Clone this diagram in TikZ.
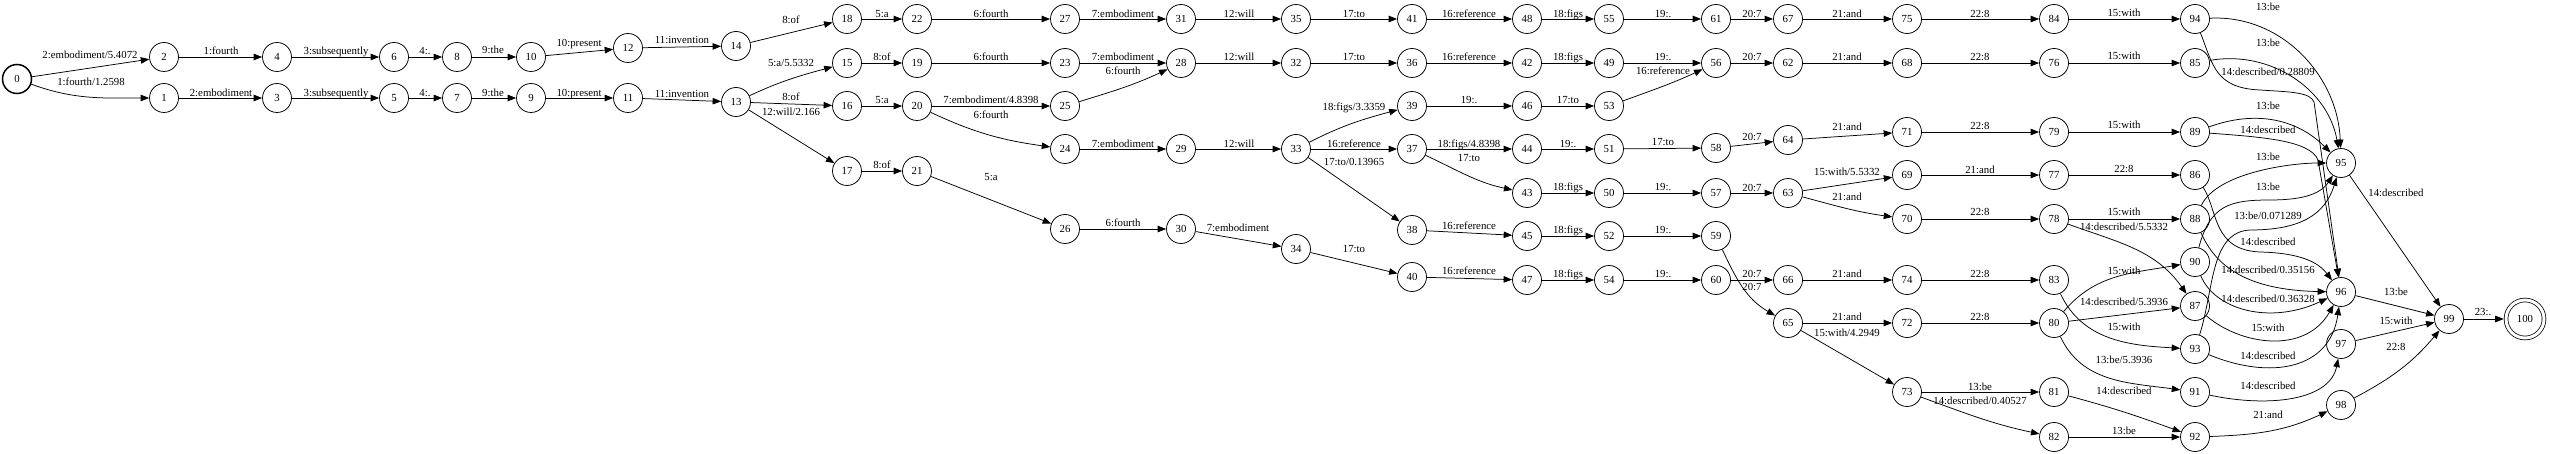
\documentclass[tikz,border=0pt]{standalone}
\usepackage{fontspec}
\setmainfont{Liberation Serif}
\usetikzlibrary{arrows.meta}
\begin{document}
\begin{tikzpicture}[x=1pt,y=1pt,
  st/.style={circle,draw,line width=0.75pt,minimum size=29pt,inner sep=0pt,font=\fontsize{10.8}{12}\selectfont},
  e/.style={-{Triangle[length=8.5pt,width=6.5pt]},line width=0.75pt},
  lbl/.style={font=\fontsize{10.8}{12}\selectfont,inner sep=0pt,text height=7pt,text depth=2pt}
]
\useasboundingbox (0,0) rectangle (2550,-454);
% nodes
\node[st,line width=1.5pt] (n0) at (17,-79) {0};
\node[st] (n1) at (164,-98) {1};
\node[st] (n2) at (164,-57) {2};
\node[st] (n3) at (277,-98) {3};
\node[st] (n4) at (277,-57) {4};
\node[st] (n5) at (394,-98) {5};
\node[st] (n6) at (394,-57) {6};
\node[st] (n7) at (457,-98) {7};
\node[st] (n8) at (457,-57) {8};
\node[st] (n9) at (531,-98) {9};
\node[st] (n10) at (531,-57) {10};
\node[st] (n11) at (628,-98) {11};
\node[st] (n12) at (628,-48) {12};
\node[st] (n13) at (736,-102) {13};
\node[st] (n14) at (736,-46) {14};
\node[st] (n15) at (847,-63) {15};
\node[st] (n16) at (847,-106) {16};
\node[st] (n17) at (847,-171) {17};
\node[st] (n18) at (847,-19) {18};
\node[st] (n19) at (917,-63) {19};
\node[st] (n20) at (917,-106) {20};
\node[st] (n21) at (917,-171) {21};
\node[st] (n22) at (917,-19) {22};
\node[st] (n23) at (1065,-63) {23};
\node[st] (n24) at (1065,-149) {24};
\node[st] (n25) at (1065,-106) {25};
\node[st] (n26) at (1065,-229) {26};
\node[st] (n27) at (1065,-19) {27};
\node[st] (n28) at (1181,-63) {28};
\node[st] (n29) at (1181,-149) {29};
\node[st] (n30) at (1181,-229) {30};
\node[st] (n31) at (1181,-19) {31};
\node[st] (n32) at (1296,-63) {32};
\node[st] (n33) at (1296,-149) {33};
\node[st] (n34) at (1296,-249) {34};
\node[st] (n35) at (1296,-19) {35};
\node[st] (n36) at (1412,-63) {36};
\node[st] (n37) at (1412,-149) {37};
\node[st] (n38) at (1412,-230) {38};
\node[st] (n39) at (1412,-106) {39};
\node[st] (n40) at (1412,-277) {40};
\node[st] (n41) at (1412,-19) {41};
\node[st] (n42) at (1527,-63) {42};
\node[st] (n43) at (1527,-193) {43};
\node[st] (n44) at (1527,-149) {44};
\node[st] (n45) at (1527,-236) {45};
\node[st] (n46) at (1527,-106) {46};
\node[st] (n47) at (1527,-280) {47};
\node[st] (n48) at (1527,-19) {48};
\node[st] (n49) at (1609,-63) {49};
\node[st] (n50) at (1609,-193) {50};
\node[st] (n51) at (1609,-149) {51};
\node[st] (n52) at (1609,-236) {52};
\node[st] (n53) at (1609,-106) {53};
\node[st] (n54) at (1609,-280) {54};
\node[st] (n55) at (1609,-19) {55};
\node[st] (n56) at (1716,-63) {56};
\node[st] (n57) at (1716,-193) {57};
\node[st] (n58) at (1716,-148) {58};
\node[st] (n59) at (1716,-236) {59};
\node[st] (n60) at (1716,-280) {60};
\node[st] (n61) at (1716,-19) {61};
\node[st] (n62) at (1788,-63) {62};
\node[st] (n63) at (1788,-193) {63};
\node[st] (n64) at (1788,-140) {64};
\node[st] (n65) at (1788,-323) {65};
\node[st] (n66) at (1788,-280) {66};
\node[st] (n67) at (1788,-19) {67};
\node[st] (n68) at (1907,-63) {68};
\node[st] (n69) at (1907,-175) {69};
\node[st] (n70) at (1907,-219) {70};
\node[st] (n71) at (1907,-132) {71};
\node[st] (n72) at (1907,-323) {72};
\node[st] (n73) at (1907,-392) {73};
\node[st] (n74) at (1907,-280) {74};
\node[st] (n75) at (1907,-19) {75};
\node[st] (n76) at (2054,-63) {76};
\node[st] (n77) at (2054,-175) {77};
\node[st] (n78) at (2054,-219) {78};
\node[st] (n79) at (2054,-132) {79};
\node[st] (n80) at (2054,-323) {80};
\node[st] (n81) at (2054,-392) {81};
\node[st] (n82) at (2054,-437) {82};
\node[st] (n83) at (2054,-280) {83};
\node[st] (n84) at (2054,-19) {84};
\node[st] (n85) at (2195,-63) {85};
\node[st] (n86) at (2195,-175) {86};
\node[st] (n87) at (2195,-306) {87};
\node[st] (n88) at (2195,-219) {88};
\node[st] (n89) at (2195,-132) {89};
\node[st] (n90) at (2195,-262) {90};
\node[st] (n91) at (2195,-392) {91};
\node[st] (n92) at (2195,-437) {92};
\node[st] (n93) at (2195,-349) {93};
\node[st] (n94) at (2195,-19) {94};
\node[st] (n95) at (2341,-163) {95};
\node[st] (n96) at (2341,-292) {96};
\node[st] (n97) at (2341,-344) {97};
\node[st] (n98) at (2341,-405) {98};
\node[st] (n99) at (2449,-319) {99};
\node[st,double,double distance=3pt,minimum size=38pt,outer sep=2.3pt] (n100) at (2525,-319) {100};
% edges
\draw[e] (n0) -- (n2) node[lbl] at (90,-56) {2:embodiment/5.4072};
\draw[e] (n0) to[out=-20,in=180] (n1) node[lbl] at (91,-83) {1:fourth/1.2598};
\draw[e] (n2) -- (n4) node[lbl] at (221,-52) {1:fourth};
\draw[e] (n1) -- (n3) node[lbl] at (221,-94) {2:embodiment};
\draw[e] (n4) -- (n6) node[lbl] at (336,-52) {3:subsequently};
\draw[e] (n3) -- (n5) node[lbl] at (336,-94) {3:subsequently};
\draw[e] (n6) -- (n8) node[lbl] at (425,-52) {4:.};
\draw[e] (n5) -- (n7) node[lbl] at (425,-94) {4:.};
\draw[e] (n8) -- (n10) node[lbl] at (493,-51) {9:the};
\draw[e] (n7) -- (n9) node[lbl] at (493,-94) {9:the};
\draw[e] (n10) -- (n12) node[lbl] at (579,-44) {10:present};
\draw[e] (n9) -- (n11) node[lbl] at (579,-94) {10:present};
\draw[e] (n12) -- (n14) node[lbl] at (682,-41) {11:invention};
\draw[e] (n11) -- (n13) node[lbl] at (682,-95) {11:invention};
\draw[e] (n14) -- (n18) node[lbl] at (791,-21) {8:of};
\draw[e] (n13) to[out=25,in=195] (n15) node[lbl] at (791,-64) {5:a/5.5332};
\draw[e] (n13) -- (n16) node[lbl] at (791,-98) {8:of};
\draw[e] (n13) -- (n17) node[lbl] at (791,-113) {12:will/2.166};
\draw[e] (n18) -- (n22) node[lbl] at (882,-15) {5:a};
\draw[e] (n15) -- (n19) node[lbl] at (882,-58) {8:of};
\draw[e] (n16) -- (n20) node[lbl] at (882,-101) {5:a};
\draw[e] (n17) -- (n21) node[lbl] at (882,-166) {8:of};
\draw[e] (n22) -- (n27) node[lbl] at (991,-15) {6:fourth};
\draw[e] (n19) -- (n23) node[lbl] at (991,-58) {6:fourth};
\draw[e] (n20) -- (n25) node[lbl] at (991,-101) {7:embodiment/4.8398};
\draw[e] (n20) to[out=-25,in=172] (n24) node[lbl] at (991,-116) {6:fourth};
\draw[e] (n21) -- (n26) node[lbl] at (991,-178) {5:a};
\draw[e] (n27) -- (n31) node[lbl] at (1123,-15) {7:embodiment};
\draw[e] (n23) -- (n28) node[lbl] at (1123,-58) {7:embodiment};
\draw[e] (n25) to[out=17,in=205] (n28) node[lbl] at (1123,-72) {6:fourth};
\draw[e] (n24) -- (n29) node[lbl] at (1123,-145) {7:embodiment};
\draw[e] (n26) -- (n30) node[lbl] at (1123,-224) {6:fourth};
\draw[e] (n31) -- (n35) node[lbl] at (1239,-15) {12:will};
\draw[e] (n28) -- (n32) node[lbl] at (1239,-58) {12:will};
\draw[e] (n29) -- (n33) node[lbl] at (1239,-145) {12:will};
\draw[e] (n30) -- (n34) node[lbl] at (1238,-229) {7:embodiment};
\draw[e] (n35) -- (n41) node[lbl] at (1354,-15) {17:to};
\draw[e] (n32) -- (n36) node[lbl] at (1354,-58) {17:to};
\draw[e] (n33) to[out=27,in=195] (n39) node[lbl] at (1354,-108) {18:figs/3.3359};
\draw[e] (n33) -- (n37) node[lbl] at (1354,-145) {16:reference};
\draw[e] (n33) -- (n38) node[lbl] at (1354,-163) {17:to/0.13965};
\draw[e] (n34) -- (n40) node[lbl] at (1354,-250) {17:to};
\draw[e] (n41) -- (n48) node[lbl] at (1469,-15) {16:reference};
\draw[e] (n36) -- (n42) node[lbl] at (1469,-58) {16:reference};
\draw[e] (n39) -- (n46) node[lbl] at (1469,-101) {19:.};
\draw[e] (n37) -- (n44) node[lbl] at (1469,-145) {18:figs/4.8398};
\draw[e] (n37) to[out=-25,in=168] (n43) node[lbl] at (1469,-159) {17:to};
\draw[e] (n38) -- (n45) node[lbl] at (1469,-227) {16:reference};
\draw[e] (n40) -- (n47) node[lbl] at (1469,-272) {16:reference};
\draw[e] (n48) -- (n55) node[lbl] at (1568,-15) {18:figs};
\draw[e] (n42) -- (n49) node[lbl] at (1568,-58) {18:figs};
\draw[e] (n46) -- (n53) node[lbl] at (1568,-101) {17:to};
\draw[e] (n44) -- (n51) node[lbl] at (1568,-145) {19:.};
\draw[e] (n43) -- (n50) node[lbl] at (1568,-188) {18:figs};
\draw[e] (n45) -- (n52) node[lbl] at (1568,-231) {18:figs};
\draw[e] (n47) -- (n54) node[lbl] at (1568,-275) {18:figs};
\draw[e] (n55) -- (n61) node[lbl] at (1663,-15) {19:.};
\draw[e] (n49) -- (n56) node[lbl] at (1663,-58) {19:.};
\draw[e] (n53) to[out=20,in=205] (n56) node[lbl] at (1663,-72) {16:reference};
\draw[e] (n51) -- (n58) node[lbl] at (1663,-143) {17:to};
\draw[e] (n50) -- (n57) node[lbl] at (1663,-188) {19:.};
\draw[e] (n52) -- (n59) node[lbl] at (1663,-231) {19:.};
\draw[e] (n54) -- (n60) node[lbl] at (1663,-275) {19:.};
\draw[e] (n61) -- (n67) node[lbl] at (1752,-15) {20:7};
\draw[e] (n56) -- (n62) node[lbl] at (1752,-58) {20:7};
\draw[e] (n58) -- (n64) node[lbl] at (1752,-138) {20:7};
\draw[e] (n57) -- (n63) node[lbl] at (1752,-189) {20:7};
\draw[e] (n60) -- (n66) node[lbl] at (1752,-275) {20:7};
\draw[e] (n59) to[out=-65,in=150] (n65) node[lbl] at (1752,-288) {20:7};
\draw[e] (n67) -- (n75) node[lbl] at (1847,-15) {21:and};
\draw[e] (n62) -- (n68) node[lbl] at (1847,-58) {21:and};
\draw[e] (n64) -- (n71) node[lbl] at (1847,-128) {21:and};
\draw[e] (n63) -- (n69) node[lbl] at (1847,-173) {15:with/5.5332};
\draw[e] (n63) to[out=-15,in=172] (n70) node[lbl] at (1847,-198) {21:and};
\draw[e] (n66) -- (n74) node[lbl] at (1847,-275) {21:and};
\draw[e] (n65) -- (n72) node[lbl] at (1847,-318) {21:and};
\draw[e] (n65) -- (n73) node[lbl] at (1847,-334) {15:with/4.2949};
\draw[e] (n75) -- (n84) node[lbl] at (1980,-15) {22:8};
\draw[e] (n68) -- (n76) node[lbl] at (1980,-58) {22:8};
\draw[e] (n71) -- (n79) node[lbl] at (1980,-127) {22:8};
\draw[e] (n69) -- (n77) node[lbl] at (1980,-171) {21:and};
\draw[e] (n70) -- (n78) node[lbl] at (1980,-213) {22:8};
\draw[e] (n74) -- (n83) node[lbl] at (1980,-275) {22:8};
\draw[e] (n72) -- (n80) node[lbl] at (1980,-318) {22:8};
\draw[e] (n73) -- (n81) node[lbl] at (1980,-388) {13:be};
\draw[e] (n73) to[out=-20,in=168] (n82) node[lbl] at (1980,-402) {14:described/0.40527};
\draw[e] (n84) -- (n94) node[lbl] at (2124,-14) {15:with};
\draw[e] (n76) -- (n85) node[lbl] at (2124,-57) {15:with};
\draw[e] (n79) -- (n89) node[lbl] at (2124,-126) {15:with};
\draw[e] (n77) -- (n86) node[lbl] at (2124,-170) {22:8};
\draw[e] (n78) -- (n88) node[lbl] at (2124,-213) {15:with};
\draw[e] (n78) to[out=-20,in=125] (n87) node[lbl] at (2124,-228) {14:described/5.5332};
\draw[e] (n80) to[out=50,in=190] (n90) node[lbl] at (2124,-272) {15:with};
\draw[e] (n80) -- (n87) node[lbl] at (2124,-303) {14:described/5.3936};
\draw[e] (n83) to[out=-65,in=177] (n93) node[lbl] at (2124,-328) {15:with};
\draw[e] (n80) to[out=-65,in=172] (n91) node[lbl] at (2124,-361) {13:be/5.3936};
\draw[e] (n81) to[out=-15,in=160] (n92) node[lbl] at (2124,-392) {14:described};
\draw[e] (n82) -- (n92) node[lbl] at (2124,-432) {13:be};
\draw[e] (n94) to[out=3,in=92] (n95) node[lbl] at (2268,-8) {13:be};
\draw[e] (n94) .. controls (2213,-65) and (2215,-88) .. (2260,-90) .. controls (2290,-92) and (2310,-92) .. (2314,-102) -- (n96) node[lbl] at (2268,-73) {14:described/0.28809};
\draw[e] (n85) to[out=10,in=100] (n95) node[lbl] at (2268,-44) {13:be};
\draw[e] (n89) to[out=20,in=135] (n95) node[lbl] at (2268,-107) {13:be};
\draw[e] (n89) .. controls (2260,-137) and (2310,-140) .. (2318,-160) -- (n96) node[lbl] at (2268,-131) {14:described};
\draw[e] (n88) to[out=65,in=180,looseness=0.7] (n95) node[lbl] at (2268,-158) {13:be};
\draw[e] (n90) .. controls (2210,-205) and (2230,-200) .. (2270,-200) .. controls (2300,-200) and (2320,-195) .. (n95) node[lbl] at (2268,-188) {13:be};
\draw[e] (n93) .. controls (2214,-290) and (2210,-232) .. (2250,-230) .. controls (2300,-230) and (2325,-215) .. (n95) node[lbl] at (2268,-217) {13:be/0.071289};
\draw[e] (n86) .. controls (2218,-210) and (2212,-250) .. (2260,-252) .. controls (2300,-253) and (2318,-262) .. (n96) node[lbl] at (2268,-243) {14:described};
\draw[e] (n88) .. controls (2215,-265) and (2245,-290) .. (n96) node[lbl] at (2268,-271) {14:described/0.35156};
\draw[e] (n90) .. controls (2215,-310) and (2270,-325) .. (n96) node[lbl] at (2268,-300) {14:described/0.36328};
\draw[e] (n87) .. controls (2240,-345) and (2305,-355) .. (n96) node[lbl] at (2268,-329) {15:with};
\draw[e] (n93) .. controls (2270,-380) and (2330,-370) .. (n96) node[lbl] at (2268,-357) {14:described};
\draw[e] (n91) .. controls (2270,-408) and (2330,-400) .. (n97) node[lbl] at (2268,-387) {14:described};
\draw[e] (n92) to[out=2,in=205] (n98) node[lbl] at (2268,-416) {21:and};
\draw[e] (n95) -- (n99) node[lbl] at (2396,-194) {14:described};
\draw[e] (n96) -- (n99) node[lbl] at (2396,-293) {13:be};
\draw[e] (n97) -- (n99) node[lbl] at (2396,-322) {15:with};
\draw[e] (n98) to[out=28,in=230] (n99) node[lbl] at (2396,-348) {22:8};
\draw[e] (n99) -- (n100) node[lbl] at (2483,-313) {23:.};
\end{tikzpicture}
\end{document}
